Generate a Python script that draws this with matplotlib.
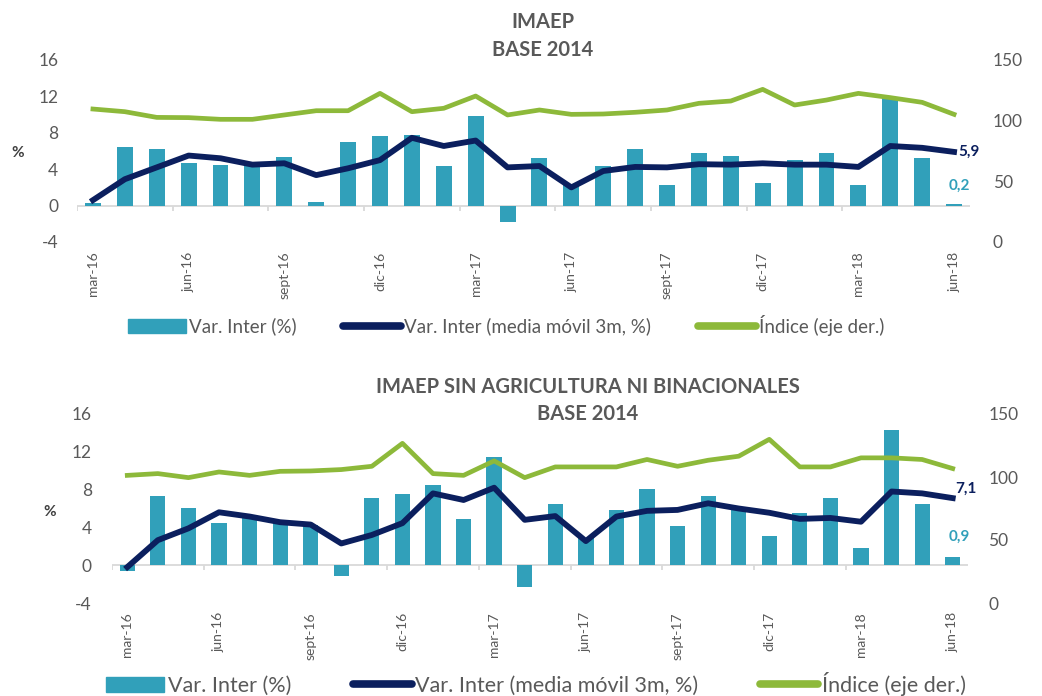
import matplotlib
matplotlib.use('Agg')
import matplotlib.pyplot as plt
from matplotlib.patches import Patch
from matplotlib.lines import Line2D

plt.rcParams['font.family'] = ['Lato', 'DejaVu Sans']
plt.rcParams['axes.unicode_minus'] = False

# meses (mar-16 .. jun-18)
meses = ['mar-16', 'abr-16', 'may-16', 'jun-16', 'jul-16', 'ago-16', 'sept-16', 'oct-16',
         'nov-16', 'dic-16', 'ene-17', 'feb-17', 'mar-17', 'abr-17', 'may-17', 'jun-17',
         'jul-17', 'ago-17', 'sept-17', 'oct-17', 'nov-17', 'dic-17', 'ene-18', 'feb-18',
         'mar-18', 'abr-18', 'may-18', 'jun-18']

# IMAEP
var_imaep = [0.3, 6.4, 6.2, 4.7, 4.5, 4.6, 5.35, 0.4, 7.0, 7.6, 7.8, 4.3, 9.8, -1.8,
             5.2, 2.4, 4.4, 6.2, 2.3, 5.75, 5.5, 2.5, 5.0, 5.75, 2.3, 11.9, 5.2, 0.2]
mm3_imaep = [0.6, 2.9, 4.2, 5.5, 5.2, 4.5, 4.65, 3.35, 4.1, 5.0, 7.45, 6.55, 7.15, 4.2,
             4.35, 2.0, 3.8, 4.25, 4.2, 4.55, 4.5, 4.65, 4.5, 4.5, 4.25, 6.55, 6.35, 5.9]
ind_imaep = [109.6, 107.4, 102.7, 102.5, 101.1, 101.1, 104.7, 108.2, 108.2, 122.5, 107.4,
             110.2, 120.3, 104.7, 108.8, 105.2, 105.5, 106.9, 108.8, 114.3, 116.2, 125.8,
             112.9, 117.0, 122.5, 119.0, 115.1, 105.2]

# IMAEP sin agricultura ni binacionales
var_sab = [-0.6, 7.3, 6.1, 4.5, 5.0, 4.5, 4.3, -1.1, 7.1, 7.5, 8.5, 4.9, 11.5, -2.3,
           6.5, 2.9, 5.85, 8.1, 4.1, 7.3, 5.9, 3.1, 5.5, 7.1, 1.85, 14.3, 6.5, 0.9]
mm3_sab = [-0.2, 2.65, 3.9, 5.6, 5.15, 4.55, 4.3, 2.3, 3.2, 4.45, 7.6, 6.9, 8.2, 4.8,
           5.2, 2.55, 5.15, 5.75, 5.85, 6.55, 6.0, 5.55, 4.9, 5.0, 4.6, 7.8, 7.6, 7.1]
ind_sab = [101.3, 102.7, 99.5, 104.0, 101.3, 104.5, 104.8, 105.9, 108.5, 126.7, 102.7,
           101.3, 112.8, 99.5, 108.0, 108.0, 108.0, 113.9, 108.5, 113.3, 116.5, 129.9,
           108.0, 108.0, 115.2, 115.2, 113.9, 106.7]

c_bar = '#31A0BA'
c_mm = '#0B1F5E'
c_ind = '#8DB93A'
c_txt = '#595959'

W, H = 1042, 696


def px(x0, y0, x1, y1):
    # caja en pixeles -> fraccion de figura
    return [x0 / W, 1 - y1 / H, (x1 - x0) / W, (y1 - y0) / H]


def panel(fig, rect, var, mm3, ind, lpad, rpad, xpad, lbl_mm, lbl_var):
    ax = fig.add_axes(rect)
    x = list(range(len(meses)))
    ax.bar(x, var, width=0.5, color=c_bar, zorder=2)
    ax.plot(x, mm3, color=c_mm, lw=4.2, zorder=3, solid_joinstyle='round')
    ax.axhline(0, color='#D9D9D9', lw=1.3, zorder=1)
    ax.vlines([b - 0.5 for b in range(0, 27, 3)], -0.55, 0, color='#D9D9D9', lw=1.3)
    ax.set_xlim(-0.5, len(meses) - 0.5)
    ax.set_ylim(-4, 16)
    ax.set_yticks([-4, 0, 4, 8, 12, 16])
    ax.set_xticks(x[::3])
    ax.set_xticklabels(meses[::3], rotation=90, fontsize=10, color=c_txt)
    ax.tick_params(axis='x', length=0, pad=xpad)
    ax.tick_params(axis='y', length=0, pad=lpad, labelsize=12.5, labelcolor=c_txt)
    for s in ax.spines.values():
        s.set_visible(False)

    ax2 = ax.twinx()
    ax2.plot(x, ind, color=c_ind, lw=3.4, zorder=3, solid_joinstyle='round')
    ax2.set_ylim(0, 150)
    ax2.set_yticks([0, 50, 100, 150])
    ax2.tick_params(axis='y', length=0, pad=rpad, labelsize=12.5, labelcolor=c_txt)
    for s in ax2.spines.values():
        s.set_visible(False)

    n = len(meses) - 1
    ax.annotate(lbl_mm[0], (n, mm3[-1]), xytext=lbl_mm[1], textcoords='offset points',
                color=c_mm, fontsize=11, fontweight='bold', ha='left', va='center')
    ax.annotate(lbl_var[0], (n, var[-1]), xytext=lbl_var[1], textcoords='offset points',
                color=c_bar, fontsize=11, fontweight='bold', ha='center', va='center')
    return ax


fig = plt.figure(figsize=(W / 100, H / 100), dpi=100)

panel(fig, px(77, 60, 970, 242), var_imaep, mm3_imaep, ind_imaep,
      lpad=13.5, rpad=16.5, xpad=7,
      lbl_mm=('5,9', (3, 0)), lbl_var=('0,2', (4, 13)))
panel(fig, px(112, 414, 968, 603), var_sab, mm3_sab, ind_sab,
      lpad=14.5, rpad=14.5, xpad=6.5,
      lbl_mm=('7,1', (2, 7)), lbl_var=('0,9', (5, 14)))

# titulos
fig.text(543 / W, 1 - 22 / H, 'IMAEP', ha='center', va='center',
         fontsize=14.5, fontweight='bold', color=c_txt)
fig.text(543 / W, 1 - 50 / H, 'BASE 2014', ha='center', va='center',
         fontsize=14.5, fontweight='bold', color=c_txt)
fig.text(588 / W, 1 - 387 / H, 'IMAEP SIN AGRICULTURA NI BINACIONALES', ha='center',
         va='center', fontsize=14.5, fontweight='bold', color=c_txt)
fig.text(588 / W, 1 - 414 / H, 'BASE 2014', ha='center', va='center',
         fontsize=14.5, fontweight='bold', color=c_txt)

# etiqueta %
fig.text(18 / W, 1 - 153 / H, '%', ha='center', va='center', fontsize=11,
         fontweight='bold', color='#404040')
fig.text(50 / W, 1 - 512 / H, '%', ha='center', va='center', fontsize=11,
         fontweight='bold', color='#404040')

# leyendas
handles = [Patch(color=c_bar),
           Line2D([], [], color=c_mm, lw=5.5, solid_capstyle='round'),
           Line2D([], [], color=c_ind, lw=5.5, solid_capstyle='round')]
labels = ['Var. Inter (%)', 'Var. Inter (media móvil 3m, %)', 'Índice (eje der.)']
fig.legend(handles, labels, loc='center', bbox_to_anchor=(506 / W, 1 - 325 / H),
           ncol=3, frameon=False, fontsize=13.5, labelcolor=c_txt, handlelength=3.1,
           handletextpad=0.15, columnspacing=2.5)
fig.legend(handles, labels, loc='center', bbox_to_anchor=(536 / W, 1 - 684 / H),
           ncol=3, frameon=False, fontsize=15.5, labelcolor=c_txt, handlelength=2.7,
           handletextpad=0.15, columnspacing=2.9)

fig.savefig('out.png', dpi=100)
